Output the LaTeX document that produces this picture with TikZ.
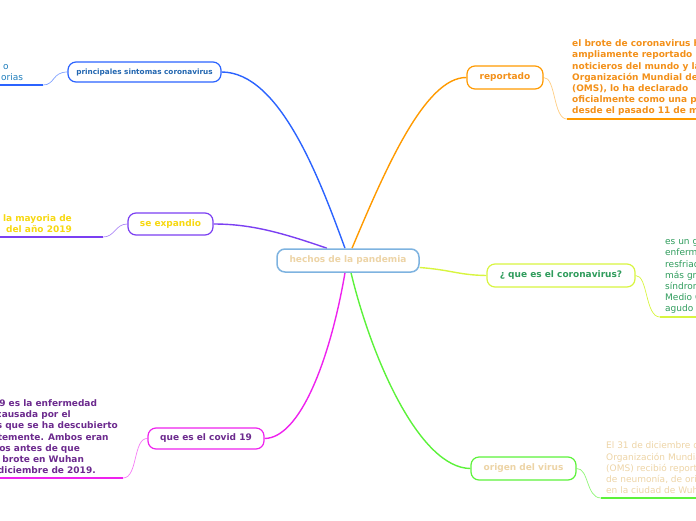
\documentclass[tikz,border=0pt]{standalone}
\usepackage{fontspec}
\setmainfont{DejaVu Sans}
\usetikzlibrary{backgrounds,calc}
\definecolor{cblue}{HTML}{2B63FF}
\definecolor{cviol}{HTML}{7B3FF2}
\definecolor{cmag}{HTML}{EE22EE}
\definecolor{corg}{HTML}{FF9A00}
\definecolor{clime}{HTML}{D8F540}
\definecolor{cgrn}{HTML}{5CF23A}
\definecolor{croot}{HTML}{7EB3E0}
\definecolor{ctan}{HTML}{EDD4A6}
\definecolor{tblue}{HTML}{2266B0}
\definecolor{tyel}{HTML}{F7D810}
\definecolor{tpur}{HTML}{6C2A8E}
\definecolor{torg}{HTML}{F39019}
\definecolor{tgrn}{HTML}{2F9C5C}
\tikzset{
  topic/.style={draw=#1,line width=1.2pt,fill=white,rounded corners=8pt,align=center,
    font=\fontsize{9}{11}\selectfont\bfseries,inner sep=2pt},
  leaf/.style={align=left,inner xsep=4pt,inner ysep=3pt,font=\fontsize{9}{11.2}\selectfont},
  br/.style={draw=#1,line width=1.4pt},
  tw/.style={draw=#1,line width=0.7pt},
  ul/.style={draw=#1,line width=1.8pt}
}

\begin{document}
\begin{tikzpicture}[x=1pt,y=-1pt]
\useasboundingbox (0,0) rectangle (696,520);
\clip (0,0) rectangle (696,520);
% centre
\node[topic=croot,line width=1.5pt,text=ctan,minimum width=142,minimum height=23] (root) at (348,260.5) {hechos de la pandemia};
% left side
\node[topic=cblue,text=tblue,font=\fontsize{7.3}{9}\selectfont\bfseries,minimum width=153,minimum height=20] (sint) at (144.5,72) {principales sintomas coronavirus};
\node[topic=cviol,text=tyel,minimum width=85,minimum height=22] (exp) at (170.5,224) {se expandio};
\node[topic=cmag,text=tpur,minimum width=116,minimum height=21] (cov) at (206,438.5) {que es el covid 19};
% right side
\node[topic=corg,text=torg,minimum width=76,minimum height=23] (rep) at (505,77.5) {reportado};
\node[topic=clime,text=tgrn,minimum width=148,minimum height=23] (coro) at (561,275.5) {¿ que es el coronavirus?};
\node[topic=cgrn,text=ctan,minimum width=105,minimum height=23] (orig) at (523.5,468.5) {origen del virus};

% leaves
\node[leaf,text=tblue!85!cyan,anchor=south west,inner xsep=1pt] (sinttx) at (0,84) {\hspace*{2pt}o\\orias};
\coordinate (sintu) at (43,85);
\node[leaf,text=tyel,font=\fontsize{9}{11.2}\selectfont\bfseries,align=right,anchor=south east] (exptx) at (76,236) {la mayoria de\\del año 2019};
\coordinate (expu) at (103,237);
\node[leaf,text=tpur,font=\fontsize{9}{11.2}\selectfont\bfseries,anchor=south east] (covtx) at (122,478) {La COVID-19 es la enfermedad\\infecciosa causada por el\\coronavirus que se ha descubierto\\más recientemente. Ambos eran\\desconocidos antes de que\\estallara el brote en Wuhan\\(China) en diciembre de 2019.};
\coordinate (covu) at (123,478);
\node[leaf,text=torg,font=\fontsize{9}{11.2}\selectfont\bfseries,anchor=south west] (reptx) at (568,119) {el brote de coronavirus ha sido\\ampliamente reportado por los\\noticieros del mundo y la\\Organización Mundial de la Salud\\(OMS), lo ha declarado\\oficialmente como una pandemia\\desde el pasado 11 de marzo};
\coordinate (repu) at (567,119);
\node[leaf,text=tgrn,anchor=south west] (corotx) at (661,317) {es un grupo de virus\\enfermedades\\resfriado común\\más graves\\síndrome\\Medio Oriente\\agudo severo};
\coordinate (corou) at (660,317);
\node[leaf,text=ctan,anchor=south west] (origtx) at (602,498) {El 31 de diciembre de 2019, la\\Organización Mundial de la Salud\\(OMS) recibió reportes de presencia\\de neumonía, de origen desconocido,\\en la ciudad de Wuhan, en China.};
\coordinate (origu) at (601,498);

\begin{scope}[on background layer]
% main branches
\draw[br=cblue] ([xshift=-3pt]root.north) .. controls (320,180) and (280,72) .. (sint.east);
\draw[br=corg] ([xshift=4pt]root.north) .. controls (385,170) and (425,77) .. (rep.west);
\draw[br=cviol] ([xshift=-21pt]root.north) .. controls (280,232) and (250,224) .. (exp.east);
\draw[br=cmag] ([xshift=-3pt]root.south) .. controls (330,360) and (300,438) .. (cov.east);
\draw[br=cgrn] ([xshift=3pt]root.south) .. controls (372,360) and (420,468) .. (orig.west);
\draw[br=clime] ([yshift=-7pt]root.east) .. controls (452,270) and (458,275) .. (coro.west);
% leaf links
\draw[tw=cblue!60] (sint.west) .. controls (52,72) and (55,85) .. (sintu);
\draw[ul=cblue] (sintu) -- (sintu -| -5,0);
\draw[tw=cviol!60] (exp.west) .. controls (115,224) and (115,237) .. (expu);
\draw[ul=cviol] (expu) -- (expu -| -5,0);
\draw[tw=cmag!60] (cov.west) .. controls (133,438) and (138,478) .. (covu);
\draw[ul=cmag] (covu) -- (covu -| -5,0);
\draw[tw=corg!50] (rep.east) .. controls (556,77) and (553,119) .. (repu);
\draw[ul=corg] (repu) -- (repu -| 700,0);
\draw[tw=clime] (coro.east) .. controls (648,275) and (645,317) .. (corou);
\draw[ul=clime] (corou) -- (corou -| 700,0);
\draw[tw=cgrn!70] (orig.east) .. controls (589,468) and (586,498) .. (origu);
\draw[ul=cgrn] (origu) -- (origu -| 700,0);
\end{scope}
\end{tikzpicture}
\end{document}
